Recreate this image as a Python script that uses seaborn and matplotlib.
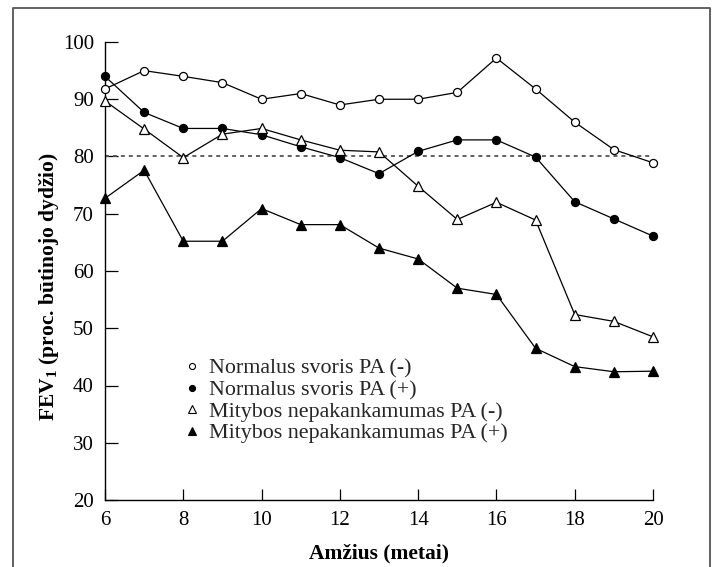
import matplotlib
matplotlib.use("Agg")
import matplotlib.pyplot as plt
from matplotlib.lines import Line2D
import seaborn as sns
import pandas as pd

sns.set_theme(style="white")
plt.rcParams["font.family"] = ["Liberation Serif", "DejaVu Serif"]
plt.rcParams["mathtext.fontset"] = "custom"
plt.rcParams["mathtext.rm"] = "Liberation Serif"
plt.rcParams["mathtext.bf"] = "Liberation Serif:bold"

age = [6, 7, 8, 9, 10, 11, 12, 13, 14, 15, 16, 17, 18, 19, 20]
normal_neg = [91.8, 95.0, 94.0, 92.9, 90.0, 91.0, 89.0, 90.0, 90.0, 91.2, 97.2, 91.8, 86.0, 81.2, 78.9]
normal_pos = [94.0, 87.7, 84.9, 84.9, 83.8, 81.7, 79.8, 77.0, 80.9, 82.9, 82.9, 79.9, 72.1, 69.1, 66.1]
malnut_neg = [89.7, 84.8, 79.8, 83.9, 84.9, 82.9, 81.1, 80.8, 74.8, 69.0, 72.0, 68.9, 52.4, 51.2, 48.5]
malnut_pos = [72.7, 77.6, 65.2, 65.2, 70.9, 68.1, 68.1, 64.0, 62.1, 57.0, 55.9, 46.5, 43.3, 42.4, 42.5]
labels = ["Normalus svoris PA (-)", "Normalus svoris PA (+)",
          "Mitybos nepakankamumas PA (-)", "Mitybos nepakankamumas PA (+)"]
reference_level = 80
x_ticks = [6, 8, 10, 12, 14, 16, 18, 20]
y_ticks = [20, 30, 40, 50, 60, 70, 80, 90, 100]

series = [normal_neg, normal_pos, malnut_neg, malnut_pos]
styles = [("o", "white", 5.8), ("o", "black", 5.8), ("^", "white", 7.0), ("^", "black", 7.0)]

W, H = 716, 567
fig = plt.figure(figsize=(W / 100, H / 100), dpi=100)
L, R, T, B = 105, 653, 42, 500
ax = fig.add_axes([L / W, 1 - B / H, (R - L) / W, (B - T) / H])

# reference line
ax.plot([age[0], age[-1]], [reference_level, reference_level], color="#555555",
        lw=1.3, ls=(0, (2.2, 2.2)), zorder=1)

for vals, lab, (m, fc, ms) in zip(series, labels, styles):
    df = pd.DataFrame({"age": age, "val": vals})
    sns.lineplot(data=df, x="age", y="val", ax=ax, color="black", lw=0.9,
                 marker=m, markersize=ms, markerfacecolor=fc, markeredgecolor="black",
                 markeredgewidth=0.9, clip_on=False, zorder=3, legend=False)

ax.set_xlim(6, 20)
ax.set_ylim(20, 100)
ax.set_xticks(x_ticks)
ax.set_yticks(y_ticks)
ax.tick_params(axis="both", which="major", bottom=True, left=True, direction="in",
               length=9, width=0.9, color="black", labelsize=15, labelcolor="black")
ax.tick_params(axis="x", length=8, pad=8)
ax.tick_params(axis="y", pad=8)
for s in ["top", "right"]:
    ax.spines[s].set_visible(False)
for s in ["left", "bottom"]:
    ax.spines[s].set_color("black")
    ax.spines[s].set_linewidth(1.0)
ax.set_facecolor("white")

ax.set_xlabel("Amžius (metai)", fontsize=15.5, fontweight="bold", color="black")
ax.xaxis.set_label_coords(0.5, -0.096)
ax.set_ylabel(r"FEV$_\mathbf{1}$ (proc. būtinojo dydžio)", fontsize=15.5, fontweight="bold",
              color="black")
ax.yaxis.set_label_coords(-0.081, 0.465)

handles = [Line2D([], [], ls="none", marker=m, markersize=ms * 0.75, markerfacecolor=fc,
                  markeredgecolor="black", markeredgewidth=0.8)
           for (m, fc, ms) in styles]
ax.legend(handles, labels, loc="upper left", bbox_to_anchor=(0.131, 0.328),
          frameon=False, fontsize=15.8, handlelength=0.6, handletextpad=0.45,
          labelspacing=0.05, borderaxespad=0)

# outer frame (open at bottom)
fig.add_artist(Line2D([13 / W, 13 / W, 710 / W, 710 / W],
                      [0, 1 - 8 / H, 1 - 8 / H, 0], transform=fig.transFigure,
                      color="#555555", lw=1.3))

fig.savefig("out.png", dpi=100, facecolor="white")
